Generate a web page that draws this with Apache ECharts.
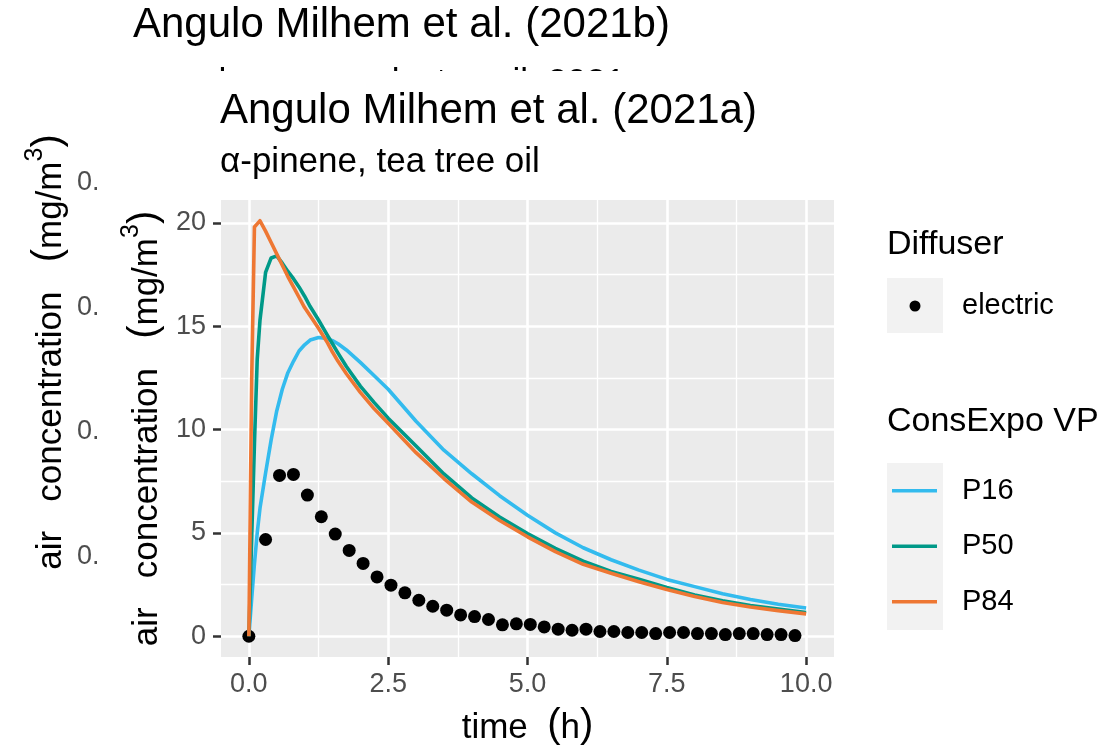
<!DOCTYPE html>
<html><head><meta charset="utf-8">
<script src="https://cdn.jsdelivr.net/npm/echarts@6/dist/echarts.min.js"></script>
<style>html,body{margin:0;padding:0;background:#fff}#c{width:1112px;height:750px}</style>
</head><body><div id="c"></div>
<script>
// ---- data ----
const diffuserTime = [0,0.3,0.55,0.8,1.05,1.3,1.55,1.8,2.05,2.3,2.55,2.8,3.05,3.3,3.55,3.8,4.05,4.3,4.55,4.8,5.05,5.3,5.55,5.8,6.05,6.3,6.55,6.8,7.05,7.3,7.55,7.8,8.05,8.3,8.55,8.8,9.05,9.3,9.55,9.8];
const diffuserConc = [0,4.68,7.78,7.83,6.83,5.78,4.94,4.15,3.52,2.87,2.47,2.10,1.74,1.45,1.26,1.03,0.95,0.81,0.55,0.60,0.57,0.45,0.34,0.29,0.34,0.23,0.23,0.18,0.18,0.13,0.18,0.18,0.13,0.13,0.08,0.13,0.13,0.08,0.08,0.03];
const modelTime = [0,0.05,0.1,0.15,0.2,0.3,0.4,0.5,0.6,0.7,0.8,0.9,1.0,1.1,1.25,1.4,1.5,1.6,1.75,2.0,2.25,2.5,3.0,3.5,4.0,4.5,5.0,5.5,6.0,6.5,7.0,7.5,8.0,8.5,9.0,9.5,10.0];
const p16 = [0,1.8,3.5,5.0,6.2,7.9,9.5,10.9,11.95,12.75,13.3,13.8,14.1,14.33,14.45,14.4,14.3,14.15,13.85,13.25,12.6,11.95,10.4,9.0,7.86,6.8,5.85,5.0,4.28,3.7,3.2,2.75,2.4,2.05,1.78,1.55,1.37];
const p50 = [0,4.7,9.3,13.4,15.3,17.6,18.3,18.4,18.05,17.65,17.3,16.9,16.45,15.95,15.3,14.6,14.15,13.7,13.05,12.1,11.3,10.55,9.2,7.85,6.69,5.77,4.97,4.25,3.63,3.13,2.76,2.36,2.0,1.72,1.49,1.31,1.15];
const p84 = [0,12.3,19.8,19.95,20.1,19.6,19.05,18.5,17.95,17.4,16.9,16.4,15.9,15.5,14.9,14.25,13.75,13.3,12.7,11.8,11.0,10.3,8.88,7.63,6.49,5.6,4.81,4.09,3.48,3.05,2.64,2.26,1.92,1.63,1.41,1.24,1.08];
const modelNames = ['P16','P50','P84'];
const modelColors = ['#33BBEE','#009988','#EE7733'];
const xTicks = [0,2.5,5,7.5,10];
const xTickLabels = ['0.0','2.5','5.0','7.5','10.0'];
const xMinor = [1.25,3.75,6.25,8.75];
const yTicks = [0,5,10,15,20];
const yTickLabels = ['0','5','10','15','20'];
const yMinor = [2.5,7.5,12.5,17.5];
const backTickLabels = ['0.','0.','0.','0.'];

const FONT = '"Liberation Sans", Arial, sans-serif';
const chart = echarts.init(document.getElementById('c'), null, {renderer:'canvas'});
const pairs = (xs, ys) => xs.map((x,i)=>[x, ys[i]]);
const modelVals = [p16,p50,p84];

const titleRich = {
  a:{fontSize:35, color:'#000', fontFamily:FONT, lineHeight:46, verticalAlign:'bottom'},
  p:{fontSize:40, color:'#000', fontFamily:FONT, lineHeight:46, verticalAlign:'bottom'},
  s:{fontSize:25, color:'#000', fontFamily:FONT, lineHeight:46, verticalAlign:'top'}
};
const yTitle = '{a|air   concentration   }{p|(}{a|mg/m}{s|3}{p|)}';
const xTitle = '{a|time  }{p|(}{a|h}{p|)}';

const option = {
  animation:false,
  backgroundColor:'#ffffff',
  textStyle:{fontFamily:FONT},
  title:[
    {text:'Angulo Milhem et al. (2021a)', left:220, top:90, padding:0, textStyle:{fontSize:42, fontWeight:'normal', color:'#000', lineHeight:42, fontFamily:FONT}},
    {text:'α-pinene, tea tree oil', left:220, top:145, padding:0, textStyle:{fontSize:35, fontWeight:'normal', color:'#000', lineHeight:35, fontFamily:FONT}},
    {text:'Diffuser', left:887, top:228, padding:0, textStyle:{fontSize:34, fontWeight:'normal', color:'#000', lineHeight:34, fontFamily:FONT}},
    {text:'ConsExpo VP', left:887, top:405, padding:0, textStyle:{fontSize:34, fontWeight:'normal', color:'#000', lineHeight:34, fontFamily:FONT}}
  ],
  graphic:[
    // partially hidden figure behind
    {type:'text', z:0, style:{text:'Angulo Milhem et al. (2021b)', x:133, y:25, verticalAlign:'middle', font:'42px '+FONT, fill:'#000'}},
    {type:'text', z:0, style:{text:'camphene, eucalyptus oil, 2021', x:133, y:83.5, verticalAlign:'middle', font:'35px '+FONT, fill:'#000'}},
    {type:'text', z:0, rotation:Math.PI/2, x:46, y:352, style:{text:yTitle, rich:titleRich, align:'center', verticalAlign:'middle'}},
    ...backTickLabels.map((t,i)=>({type:'text', z:0, style:{text:t, x:77, y:[183,308,432,557][i], verticalAlign:'middle', font:'27px '+FONT, fill:'#4D4D4D'}})),
    {type:'rect', z:1, shape:{x:95, y:71, width:760, height:34}, style:{fill:'#fff'}},
    // legend key backgrounds
    {type:'rect', z:1, shape:{x:887, y:278, width:56, height:55}, style:{fill:'#F2F2F2'}},
    {type:'rect', z:1, shape:{x:887, y:463, width:56, height:167}, style:{fill:'#F2F2F2'}}
  ],
  legend:[
    {data:['electric'], orient:'vertical', left:909.5, top:278.5, padding:0, itemGap:0, itemWidth:11, itemHeight:11, icon:'circle',
     itemStyle:{opacity:1},
     textStyle:{fontSize:29, color:'#000', lineHeight:55, padding:[0,0,0,36.5], fontFamily:FONT}},
    {data:modelNames, orient:'vertical', left:892, top:463, padding:0, itemGap:0, itemWidth:45, itemHeight:3.5, icon:'rect',
     textStyle:{fontSize:29, color:'#000', lineHeight:55.5, padding:[0,0,0,20], fontFamily:FONT}}
  ],
  grid:{left:221, top:200, width:613, height:457, show:true, backgroundColor:'#EBEBEB', borderWidth:0,
        containLabel:false, outerBoundsMode:'none'},
  xAxis:[
    {type:'value', min:-0.5, max:10.5, position:'bottom',
     axisLine:{show:false, onZero:false},
     axisTick:{show:true, length:8, lineStyle:{color:'#333333', width:2.5}, customValues:xTicks},
     axisLabel:{customValues:xTicks, formatter:v=>xTickLabels[xTicks.indexOf(v)], fontSize:27, color:'#4D4D4D', margin:14, fontFamily:FONT},
     splitLine:{show:true, lineStyle:{color:'#ffffff', width:2.6}},
     name:xTitle, nameLocation:'middle', nameGap:43, nameTextStyle:{rich:titleRich}},
    {type:'value', min:-0.5, max:10.5, position:'bottom',
     axisLine:{show:false, onZero:false}, axisTick:{show:false, customValues:xMinor}, axisLabel:{show:false},
     splitLine:{show:true, lineStyle:{color:'#ffffff', width:1.3}}}
  ],
  yAxis:[
    {type:'value', min:-1.005, max:21.105, position:'left',
     axisLine:{show:false, onZero:false},
     axisTick:{show:true, length:8, lineStyle:{color:'#333333', width:2.5}, customValues:yTicks},
     axisLabel:{customValues:yTicks, formatter:v=>yTickLabels[yTicks.indexOf(v)], fontSize:27, color:'#4D4D4D', margin:15, fontFamily:FONT},
     splitLine:{show:true, lineStyle:{color:'#ffffff', width:2.6}},
     name:yTitle, nameLocation:'middle', nameGap:56,
     nameTextStyle:{rich:titleRich}},
    {type:'value', min:-1.005, max:21.105, position:'left',
     axisLine:{show:false, onZero:false}, axisTick:{show:false, customValues:yMinor}, axisLabel:{show:false},
     splitLine:{show:true, lineStyle:{color:'#ffffff', width:1.3}}}
  ],
  series:[
    {name:'electric', type:'scatter', data:pairs(diffuserTime, diffuserConc), symbol:'circle', symbolSize:13,
     itemStyle:{color:'#000', opacity:1}, z:2},
    ...modelNames.map((n,i)=>({name:n, type:'line', data:pairs(modelTime, modelVals[i]), symbol:'none', showSymbol:false,
     lineStyle:{width:3.6, color:modelColors[i], join:'round'}, itemStyle:{color:modelColors[i]}, z:3+i}))
  ]
};
chart.setOption(option);
</script>
</body></html>
